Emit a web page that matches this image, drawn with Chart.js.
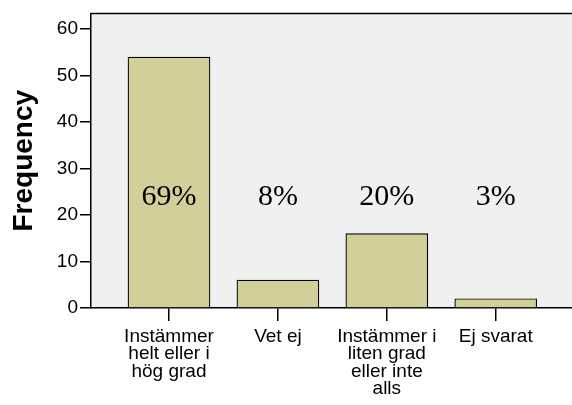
<!DOCTYPE html>
<html>
<head>
<meta charset="utf-8">
<script src="https://cdn.jsdelivr.net/npm/chart.js@4/dist/chart.umd.min.js"></script>
<style>
  html, body { margin: 0; padding: 0; background: #ffffff; }
  #wrap { width: 572px; height: 405px; }
</style>
</head>
<body>
<div id="wrap"><canvas id="freq"></canvas></div>
<script>
// categories (multi-line tick labels), counts and percentage labels
const categories = [
    ["Instämmer", "helt eller i", "hög grad"],
    ["Vet ej"],
    ["Instämmer i", "liten grad", "eller inte", "alls"],
    ["Ej svarat"]
];
const counts = [54, 6, 16, 2];
const percents = ["69%", "8%", "20%", "3%"];
const yTicks = [0, 10, 20, 30, 40, 50, 60];

// plot background and top frame line
const frame = {
    id: 'frame',
    beforeDraw(chart) {
        const a = chart.chartArea, ctx = chart.ctx;
        ctx.save();
        ctx.fillStyle = '#f0f0f0';
        ctx.fillRect(a.left, a.top, a.right - a.left, a.bottom - a.top);
        ctx.strokeStyle = '#000';
        ctx.lineWidth = 1.5;
        ctx.beginPath();
        ctx.moveTo(a.left, a.top);
        ctx.lineTo(a.right, a.top);
        ctx.stroke();
        ctx.restore();
    }
};

// percentage text over each category
const pctLabels = {
    id: 'pctLabels',
    afterDatasetsDraw(chart, args, opts) {
        const ctx = chart.ctx, x = chart.scales.x, y = chart.scales.y;
        ctx.save();
        ctx.font = '30px "Liberation Serif", "Times New Roman", serif';
        ctx.fillStyle = '#000';
        ctx.textAlign = 'center';
        ctx.textBaseline = 'middle';
        percents.forEach((p, i) => {
            ctx.fillText(p, x.getPixelForValue(i), y.getPixelForValue(opts.level));
        });
        ctx.restore();
    }
};

const ctx = document.getElementById('freq').getContext('2d');
new Chart(ctx, {
    type: 'bar',
    data: {
        datasets: [{
            label: 'Frequency',
            data: counts.map((v, i) => ({ x: i, y: v })),
            backgroundColor: '#d3cf9b',
            borderColor: '#000',
            borderWidth: 1.2,
            barThickness: 82
        }]
    },
    options: {
        responsive: true,
        maintainAspectRatio: false,
        animation: false,
        layout: { padding: { top: 13, right: 0, left: 0, bottom: 0 } },
        plugins: {
            legend: { display: false },
            tooltip: { enabled: false },
            pctLabels: { level: 23.9 }
        },
        scales: {
            x: {
                type: 'linear',
                offset: false,
                min: -0.716,
                max: 3.7,
                afterBuildTicks: s => { s.ticks = categories.map((c, i) => ({ value: i })); },
                afterFit: s => { s.height = 97; },
                grid: { offset: false, drawOnChartArea: false, color: '#000', tickLength: 13, lineWidth: 1.5 },
                border: { color: '#000', width: 1.5 },
                ticks: {
                    color: '#000',
                    maxRotation: 0,
                    autoSkip: false,
                    padding: 7,
                    font: { family: '"Liberation Sans", Arial, sans-serif', size: 19, lineHeight: 0.92 },
                    callback: v => categories[v]
                }
            },
            y: {
                min: 0,
                max: 63.4,
                afterBuildTicks: s => { s.ticks = yTicks.map(v => ({ value: v })); },
                afterFit: s => { s.width = 91; },
                grid: { drawOnChartArea: false, color: '#000', tickLength: 11, lineWidth: 1.5 },
                border: { color: '#000', width: 1.5 },
                title: {
                    display: true,
                    text: 'Frequency',
                    color: '#000',
                    padding: { top: 7, bottom: 0 },
                    font: { family: '"Liberation Sans", Arial, sans-serif', size: 28, weight: 'bold' }
                },
                ticks: {
                    color: '#000',
                    padding: 2,
                    font: { family: '"Liberation Sans", Arial, sans-serif', size: 19 }
                }
            }
        }
    },
    plugins: [frame, pctLabels]
});
</script>
</body>
</html>
